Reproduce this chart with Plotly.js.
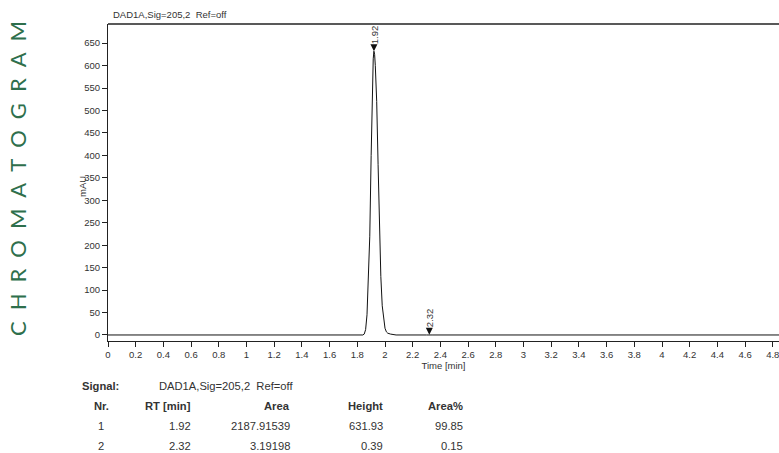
<!DOCTYPE html>
<html>
<head>
<meta charset="utf-8">
<script src="https://cdn.plot.ly/plotly-3.0.1.min.js"></script>
<style>
  html, body { margin: 0; padding: 0; background: #ffffff; }
  #chart { width: 779px; height: 453px; }
</style>
</head>
<body>
<div id="chart"></div>
<script>
// ---- Data ----
const signalName = "DAD1A,Sig=205,2\u00a0 Ref=off";

// Detector trace (time in min, absorbance in mAU)
const timeMin = [0, 1.84, 1.85, 1.86, 1.87, 1.88, 1.89, 1.90, 1.91, 1.915, 1.92, 1.925, 1.93, 1.94, 1.95, 1.96, 1.97, 1.98, 1.99, 2.00, 2.01, 2.02, 2.04, 2.06, 2.08, 2.30, 2.32, 2.34, 4.85];
const absorbance = [0, 0, 2, 12, 45, 120, 220, 400, 575, 615, 632, 625, 600, 520, 380, 240, 130, 65, 35, 15, 7, 4, 2, 1, 0, 0, 0.39, 0, 0];

// Integration results table
const peakNr = [1, 2];
const peakRT = [1.92, 2.32];
const peakArea = [2187.91539, 3.19198];
const peakHeight = [631.93, 0.39];
const peakAreaPct = [99.85, 0.15];

// ---- Layout helpers (pixel -> paper) ----
const W = 779, H = 453;
const L = 108, R = 0, T = 24, B = 112;
const plotW = W - L - R, plotH = H - T - B;
const px = x => (x - L) / plotW;
const py = y => (H - B - y) / plotH;

const axisFont = { family: "Liberation Sans, Arial, sans-serif", size: 9.5, color: "#333333" };
const tableFont = { family: "Liberation Sans, Arial, sans-serif", size: 11.2, color: "#333333" };
const tableBold = { family: "Liberation Sans, Arial, sans-serif", size: 11.2, color: "#333333", weight: "bold" };

const annotations = [];

// Peak labels with arrows
for (let i = 0; i < peakRT.length; i++) {
  annotations.push({
    x: peakRT[i], y: peakHeight[i], xref: "x", yref: "y",
    text: peakRT[i].toFixed(2), textangle: -90,
    showarrow: true, arrowhead: 2, arrowsize: 1.4, arrowwidth: 1, arrowcolor: "#111111",
    ax: 0, ay: -17, font: axisFont
  });
}

// Y axis title placed as in reference
annotations.push({
  x: px(82), y: py(187), xref: "paper", yref: "paper",
  text: "mAU", textangle: -90, showarrow: false, font: axisFont,
  xanchor: "center", yanchor: "middle"
});

// Side banner
annotations.push({
  x: px(17), y: py(179), xref: "paper", yref: "paper",
  text: "CHROMATOGRAM".split("").join("\u2002"), textangle: -90, showarrow: false,
  font: { family: "Lato, Noto Sans, sans-serif", size: 22, color: "#2e6f4c" },
  xanchor: "center", yanchor: "middle"
});

// Table
function tcell(text, x, y, anchor, font) {
  annotations.push({
    x: px(x), y: py(y), xref: "paper", yref: "paper", text: text,
    showarrow: false, xanchor: anchor, yanchor: "middle", font: font
  });
}
const rowSignal = 386, rowHead = 406, rowFirst = 426, rowStep = 19.5;
tcell("Signal:", 80, rowSignal, "left", tableBold);
tcell(signalName, 157, rowSignal, "left", tableFont);
tcell("Nr.", 101, rowHead, "center", tableBold);
tcell("RT [min]", 193, rowHead, "right", tableBold);
tcell("Area", 292, rowHead, "right", tableBold);
tcell("Height", 385, rowHead, "right", tableBold);
tcell("Area%", 465, rowHead, "right", tableBold);
for (let i = 0; i < peakNr.length; i++) {
  const y = rowFirst + i * rowStep;
  tcell(String(peakNr[i]), 101, y, "center", tableFont);
  tcell(peakRT[i].toFixed(2), 193, y, "right", tableFont);
  tcell(peakArea[i].toFixed(5), 292, y, "right", tableFont);
  tcell(peakHeight[i].toFixed(2), 385, y, "right", tableFont);
  tcell(peakAreaPct[i].toFixed(2), 465, y, "right", tableFont);
}

const trace = {
  x: timeMin, y: absorbance, type: "scatter", mode: "lines",
  line: { color: "#111111", width: 1, shape: "linear" },
  hoverinfo: "skip", showlegend: false
};

const layout = {
  width: W, height: H,
  margin: { l: L, r: R, t: T, b: B, pad: 0 },
  paper_bgcolor: "#ffffff", plot_bgcolor: "#ffffff",
  showlegend: false,
  title: {
    text: signalName, font: axisFont,
    x: 113 / W, xanchor: "left", xref: "container",
    y: 1 - 15 / H, yanchor: "middle", yref: "container"
  },
  xaxis: {
    range: [0, (W - L) / 138.5], dtick: 0.2, tick0: 0,
    showgrid: false, zeroline: false,
    showline: true, linecolor: "#222222", linewidth: 1,
    ticks: "outside", ticklen: 5, tickcolor: "#222222", tickwidth: 1,
    tickfont: axisFont, ticklabeloverflow: "allow",
    title: { text: "Time [min]", font: axisFont, standoff: 2 },
    automargin: false, fixedrange: true
  },
  yaxis: {
    range: [-13.4, 692.6], dtick: 50, tick0: 0,
    showgrid: false, zeroline: false,
    showline: true, linecolor: "#222222", linewidth: 1,
    ticks: "outside", ticklen: 5, tickcolor: "#222222", tickwidth: 1,
    tickfont: axisFont, automargin: false, fixedrange: true
  },
  shapes: [{
    type: "line", xref: "paper", yref: "paper", x0: 0, x1: 1, y0: 1, y1: 1,
    line: { color: "#222222", width: 1.3 }
  }],
  annotations: annotations
};

Plotly.newPlot("chart", [trace], layout, { staticPlot: true, displayModeBar: false });
</script>
</body>
</html>
